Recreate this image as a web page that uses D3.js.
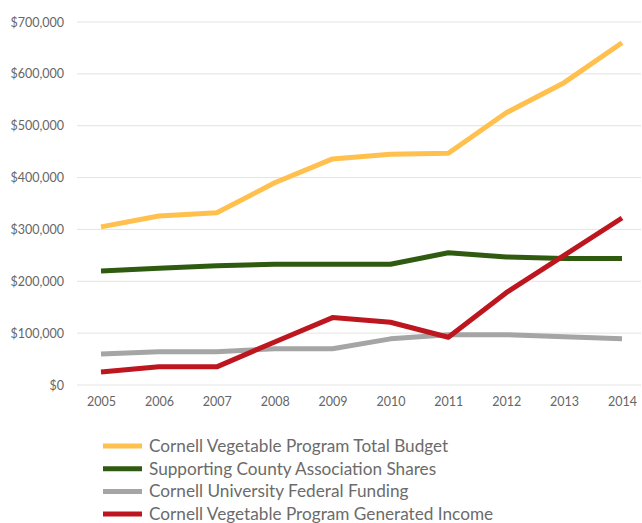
<!DOCTYPE html>
<html>
<head>
<meta charset="utf-8">
<script src="https://cdn.jsdelivr.net/npm/d3@7"></script>
<style>
  body { margin: 0; background: #fff; }
  svg { display: block; font-family: Lato, "Open Sans", sans-serif; }
</style>
</head>
<body>
<script>
// data
const years = [2005, 2006, 2007, 2008, 2009, 2010, 2011, 2012, 2013, 2014];
const totalBudget = [305000, 326000, 332000, 390000, 436000, 445000, 447000, 525000, 583000, 660000];
const countyShares = [220000, 225000, 230000, 233000, 233000, 233000, 255000, 247000, 244000, 244000];
const federalFunding = [60000, 64000, 64000, 70000, 70000, 89000, 97000, 97000, 93000, 89000];
const generatedIncome = [25000, 35000, 35000, 83000, 130000, 121000, 92000, 178000, 250000, 322000];
const yTicks = [0, 100000, 200000, 300000, 400000, 500000, 600000, 700000];

const seriesNames = [
  "Cornell Vegetable Program Total Budget",
  "Supporting County Association Shares",
  "Cornell University Federal Funding",
  "Cornell Vegetable Program Generated Income"
];
const seriesColors = ["#FFC04E", "#2F5B10", "#A5A5A5", "#BE161E"];
const seriesValues = [totalBudget, countyShares, federalFunding, generatedIncome];

const w = 642, h = 523;

const svg = d3.select("body").append("svg")
  .attr("width", w)
  .attr("height", h);

const xScale = d3.scalePoint()
  .domain(years)
  .range([101, 622]);

const yScale = d3.scaleLinear()
  .domain([0, 700000])
  .range([385, 22]);

const fmt = d3.format("$,");

// gridlines
svg.append("g")
  .selectAll("line")
  .data(yTicks)
  .enter()
  .append("line")
  .attr("x1", 77)
  .attr("x2", 641)
  .attr("y1", d => yScale(d))
  .attr("y2", d => yScale(d))
  .attr("stroke", "#e3e3e3")
  .attr("stroke-width", 1);

// y axis
const yAxis = d3.axisLeft(yScale)
  .tickValues(yTicks)
  .tickFormat(fmt)
  .tickSize(0)
  .tickPadding(0);

svg.append("g")
  .attr("transform", "translate(64,0)")
  .call(yAxis)
  .call(g => g.select(".domain").remove())
  .selectAll("text")
  .attr("font-size", 12.5)
  .attr("font-family", "Lato, sans-serif")
  .attr("fill", "#666");

// x axis
const xAxis = d3.axisBottom(xScale).tickSize(0).tickPadding(0);

svg.append("g")
  .attr("transform", "translate(0,397)")
  .call(xAxis)
  .call(g => g.select(".domain").remove())
  .selectAll("text")
  .attr("font-size", 12.5)
  .attr("font-family", "Lato, sans-serif")
  .attr("fill", "#666");

// lines
const line = d3.line()
  .x((d, i) => xScale(years[i]))
  .y(d => yScale(d));

svg.append("g")
  .selectAll("path")
  .data(seriesValues)
  .enter()
  .append("path")
  .attr("d", d => line(d))
  .attr("fill", "none")
  .attr("stroke", (d, i) => seriesColors[i])
  .attr("stroke-width", 5)
  .attr("stroke-linejoin", "round");

// legend
const legend = svg.append("g")
  .selectAll("g")
  .data(seriesNames)
  .enter()
  .append("g")
  .attr("transform", (d, i) => `translate(103, ${446 + i * 22.7})`);

legend.append("line")
  .attr("x1", 0)
  .attr("x2", 39)
  .attr("stroke", (d, i) => seriesColors[i])
  .attr("stroke-width", 5);

legend.append("text")
  .attr("x", 46)
  .attr("dy", "0.35em")
  .attr("font-size", 17.2)
  .attr("fill", "#6b6b6b")
  .text(d => d);
</script>
</body>
</html>
